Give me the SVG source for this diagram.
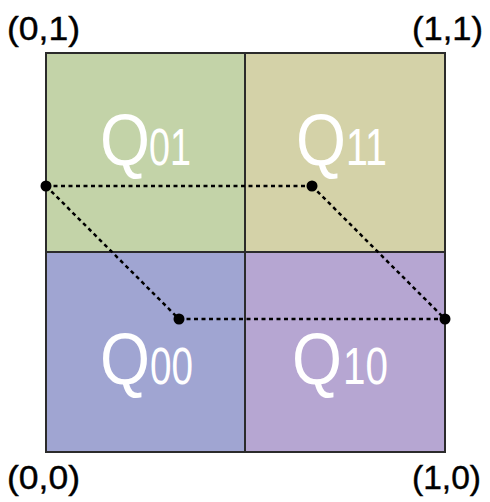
<svg xmlns="http://www.w3.org/2000/svg" width="490" height="502" viewBox="0 0 490 502">
<style>
.cell{stroke:#2b2b2b;stroke-width:2}
.q{font-family:"Liberation Sans",Arial,sans-serif;fill:#ffffff}
.coord{font-family:"Liberation Sans",Arial,sans-serif;font-size:33px;fill:#000;stroke:#000;stroke-width:0.4}
.dot{fill:#000}
.conn line{stroke:#000;stroke-width:2.5;stroke-dasharray:4 3.5}
</style>
<rect width="490" height="502" fill="#ffffff"/>
<g id="Q01"><rect class="cell" x="46" y="53" width="199" height="199" fill="#c3d3a8"/><text class="q" y="165"><tspan x="100" font-size="72" textLength="50" lengthAdjust="spacingAndGlyphs">Q</tspan><tspan x="149" font-size="51" textLength="42" lengthAdjust="spacingAndGlyphs">01</tspan></text></g>
<g id="Q11"><rect class="cell" x="245" y="53" width="200" height="199" fill="#d4d2a8"/><text class="q" y="165"><tspan x="296" font-size="72" textLength="50" lengthAdjust="spacingAndGlyphs">Q</tspan><tspan x="346" font-size="51" textLength="41" lengthAdjust="spacingAndGlyphs">11</tspan></text></g>
<g id="Q00"><rect class="cell" x="46" y="252" width="199" height="200" fill="#a0a5d2"/><text class="q" y="384"><tspan x="100" font-size="72" textLength="50" lengthAdjust="spacingAndGlyphs">Q</tspan><tspan x="150" font-size="51" textLength="43" lengthAdjust="spacingAndGlyphs">00</tspan></text></g>
<g id="Q10"><rect class="cell" x="245" y="252" width="200" height="200" fill="#b6a6d2"/><text class="q" y="384"><tspan x="292" font-size="72" textLength="50" lengthAdjust="spacingAndGlyphs">Q</tspan><tspan x="343" font-size="51" textLength="45" lengthAdjust="spacingAndGlyphs">10</tspan></text></g>
<g id="connectors" class="conn">
<line x1="46" y1="186" x2="312" y2="186"/>
<line x1="46" y1="186" x2="179" y2="319"/>
<line x1="179" y1="319" x2="445" y2="319"/>
<line x1="312" y1="186" x2="445" y2="319"/>
</g>
<g id="points">
<circle class="dot" cx="46" cy="186" r="5.5"/>
<circle class="dot" cx="312" cy="186" r="5.5"/>
<circle class="dot" cx="179" cy="319" r="5.5"/>
<circle class="dot" cx="445" cy="319" r="5.5"/>
</g>
<g id="labels">
<text class="coord" x="7" y="40" textLength="73" lengthAdjust="spacingAndGlyphs">(0,1)</text>
<text class="coord" x="412" y="40" textLength="71" lengthAdjust="spacingAndGlyphs">(1,1)</text>
<text class="coord" x="7" y="489" textLength="73" lengthAdjust="spacingAndGlyphs">(0,0)</text>
<text class="coord" x="412" y="489" textLength="69" lengthAdjust="spacingAndGlyphs">(1,0)</text>
</g>
</svg>
